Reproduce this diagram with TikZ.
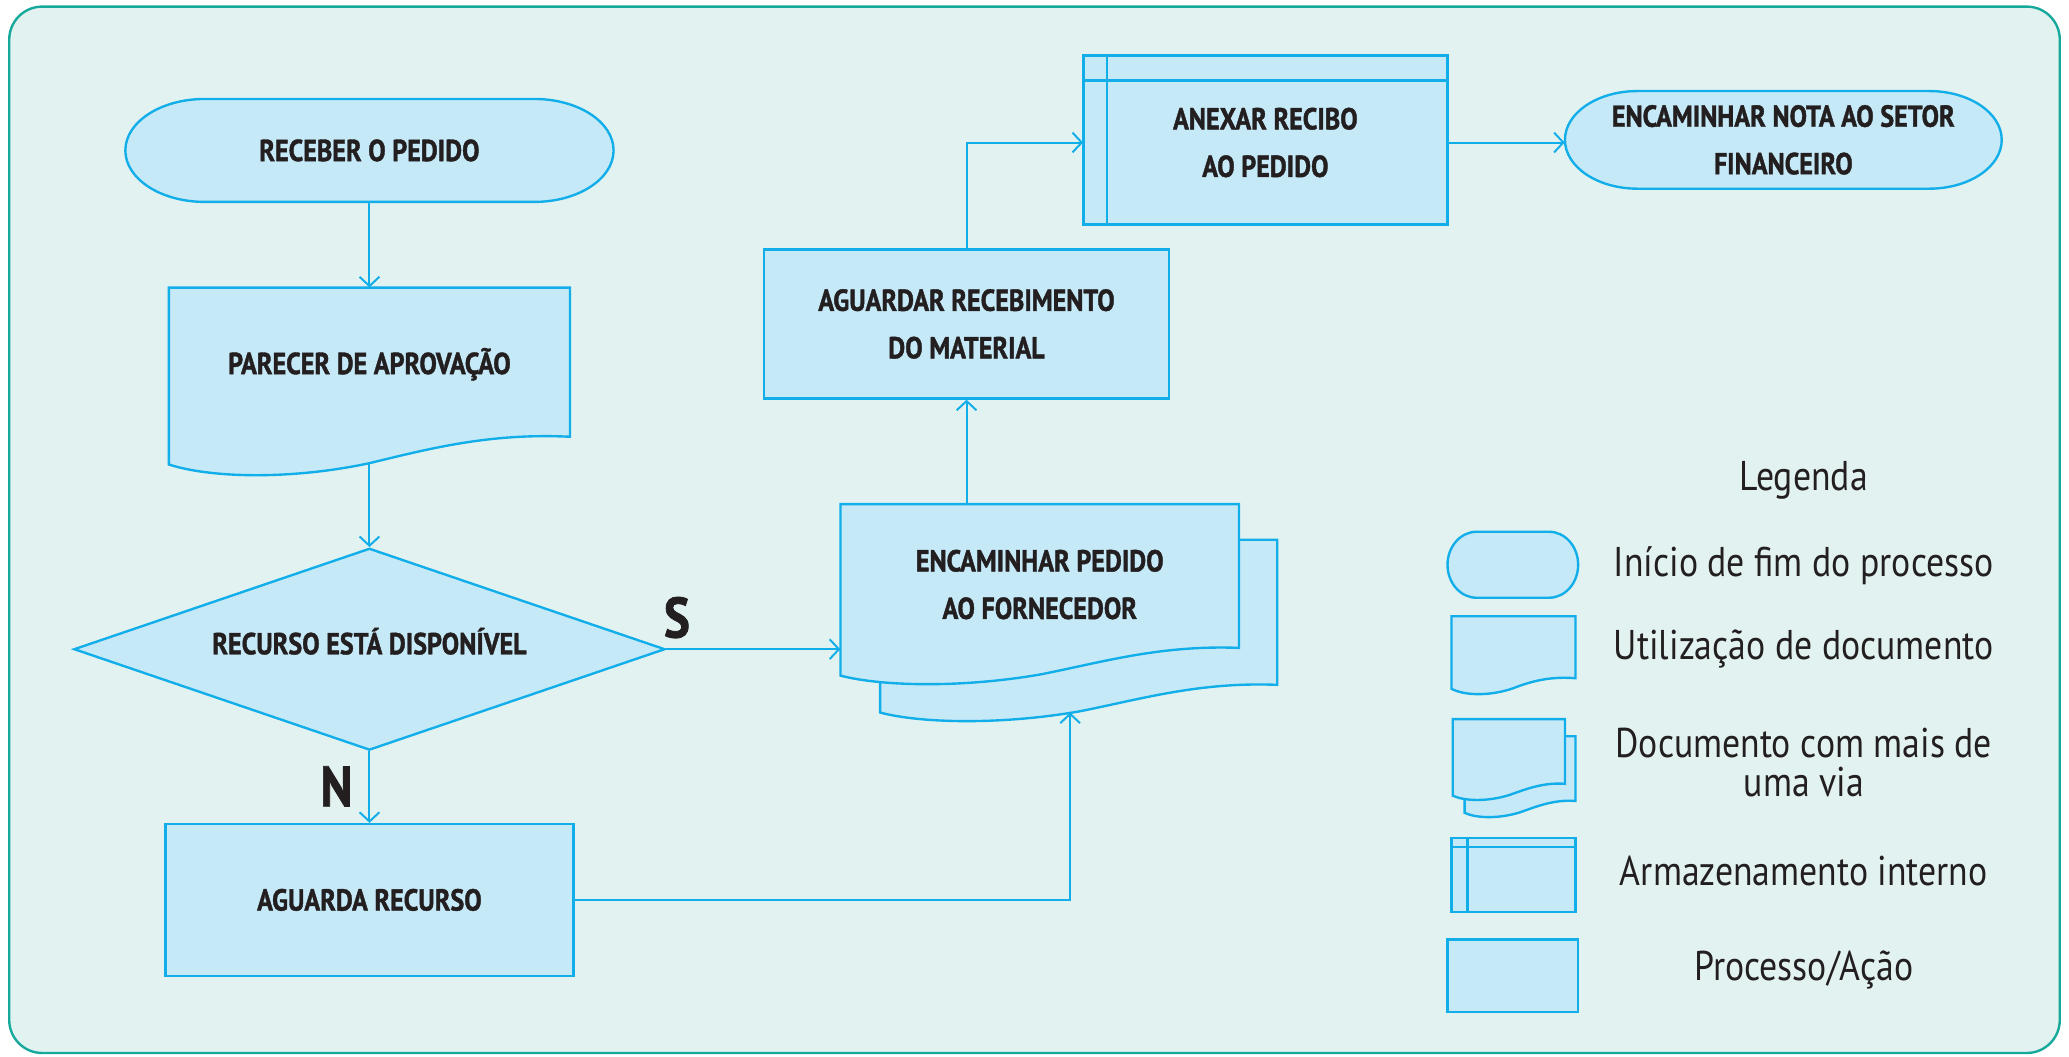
\documentclass[tikz,border=0pt]{standalone}
\usepackage{fontspec}
\setmainfont{PT Sans}[FakeStretch=0.86, BoldFeatures={FakeBold=1.3}]
\usetikzlibrary{arrows.meta,shapes.geometric,calc}

\definecolor{bgmint}{HTML}{E2F2F0}
\definecolor{framecol}{HTML}{16A99B}
\definecolor{boxfill}{HTML}{C6E9F7}
\definecolor{boxline}{HTML}{12AEEA}
\definecolor{ink}{HTML}{231F20}

\tikzset{
  shapeline/.style={draw=boxline, fill=boxfill, line width=1.8pt},
  labelfont/.style={font=\bfseries\fontsize{23}{36}\selectfont, text=ink, align=center},
  procbox/.style={shapeline, rectangle, inner sep=0pt, labelfont},
  holder/.style={rectangle, inner sep=0pt, labelfont},
  flow/.style={draw=boxline, line width=1.5pt, -{Straight Barb[length=7pt,width=15pt,line width=1.5pt]}},
  branch/.style={font=\bfseries\fontsize{43}{43}\selectfont, text=ink},
  legtext/.style={font=\fontsize{31.5}{30}\selectfont, text=ink, align=center},
}

% stadium outline: centre x, centre y, half width, half height, end radius
\newcommand\stadiumshape[5]{%
  \draw[shapeline] ({#1-#3+#5},{#2-#4}) -- ({#1+#3-#5},{#2-#4})
    arc[start angle=-90,end angle=90,x radius=#5,y radius=#4]
    -- ({#1-#3+#5},{#2+#4})
    arc[start angle=90,end angle=270,x radius=#5,y radius=#4] -- cycle;}

% document outline: left x, right x, top y, left bottom y, right bottom y, wave depth
\newcommand\docshape[6]{%
  \draw[shapeline] (#1,#3) -- (#1,#4)
    .. controls ({#1+0.1*(#2-#1)},{#4+#6}) and ({#1+0.3*(#2-#1)},{#4+1.2*#6}) .. ({#1+0.5*(#2-#1)},{#4-0.1*#6})
    .. controls ({#1+0.65*(#2-#1)},{#4-1.2*#6}) and ({#1+0.8*(#2-#1)},{#5-0.3*#6}) .. (#2,#5)
    -- (#2,#3) -- cycle;}

% internal storage outline: left x, right x, top y, bottom y, inner x, inner y
\newcommand\storeshape[6]{%
  \draw[shapeline] (#1,#3) rectangle (#2,#4);
  \draw[draw=boxline, line width=1.8pt] (#5,#3) -- (#5,#4) (#1,#6) -- (#2,#6);}

\begin{document}
\begin{tikzpicture}[x=1pt,y=-1pt]
\useasboundingbox (0,0) rectangle (1568,801);
\fill[white] (0,0) rectangle (1568,801);
\draw[fill=bgmint, draw=framecol, line width=1.8pt, rounded corners=25pt] (7,5) rectangle (1561,798);

% ---- outlines of the flowchart symbols
\stadiumshape{280}{114}{185}{39}{60}
\docshape{128}{432}{218}{352}{331}{10}
\docshape{667}{968}{409}{540}{519}{8}
\docshape{637}{939}{382}{512}{491}{8}
\storeshape{821}{1097}{42}{170}{839}{61}
\stadiumshape{1351.5}{106}{165.5}{37}{55}

% ---- flowchart nodes
\node[holder, minimum width=370pt, minimum height=78pt] (recv) at (280,114) {RECEBER O PEDIDO};
\node[holder, minimum width=304pt, minimum height=116pt] (parecer) at (280,276) {PARECER DE APROVAÇÃO};
\coordinate (parecerwave) at (280,351);
\node[shapeline, diamond, aspect=2.93, inner sep=0pt, minimum width=448pt, minimum height=153pt] (dec) at (280,492) {};
\node[holder] (dectext) at (280,486) {RECURSO ESTÁ DISPONÍVEL};
\node[procbox, minimum width=309pt, minimum height=115pt] (wait) at (280,682) {AGUARDA RECURSO};
\node[holder, minimum width=302pt, minimum height=122pt] (fwd) at (788,443) {ENCAMINHAR PEDIDO\\AO FORNECEDOR};
\coordinate (fwdback) at (811,540);
\node[procbox, minimum width=307pt, minimum height=113pt] (rcv) at (732.5,245.5) {AGUARDAR RECEBIMENTO\\DO MATERIAL};
\node[holder, minimum width=276pt, minimum height=128pt] (anx) at (959,108) {ANEXAR RECIBO\\AO PEDIDO};
\node[holder, minimum width=331pt, minimum height=74pt] (nota) at (1351.5,106) {ENCAMINHAR NOTA AO SETOR\\FINANCEIRO};

\node[branch] (yes) at (513,468) {S};
\node[branch] (no) at (255,596) {N};

% ---- connectors
\draw[flow] (recv.south) -- (parecer.north);
\draw[flow] (parecerwave) -- (dec.north);
\draw[flow] (dec.south) -- (wait.north);
\draw[flow] (dec.east) -- (dec.east -| fwd.west);
\draw[flow] (wait.east) -| (fwdback);
\draw[flow] (fwd.north -| rcv.south) -- (rcv.south);
\draw[flow] (rcv.north) |- (anx.west);
\draw[flow] (anx.east) -- (anx.east -| nota.west);

% ---- legend
\node[legtext] (legtitle) at (1367,364) {Legenda};
\stadiumshape{1146.5}{428}{49.5}{25}{22}
\node[legtext] (legstart) at (1367,429) {Início de fim do processo};
\docshape{1100}{1194}{467}{522}{514}{5}
\node[legtext] (legdoc) at (1367,492) {Utilização de documento};
\docshape{1110}{1194}{558}{616}{607}{4}
\docshape{1101}{1186}{545}{603}{594}{4}
\node[legtext] (legmulti) at (1367,578) {Documento com mais de\\uma via};
\storeshape{1100}{1194}{635}{691}{1112}{642}
\node[legtext] (legstore) at (1367,660) {Armazenamento interno};
\node[shapeline, rectangle, minimum width=99pt, minimum height=55pt] (legproc) at (1146.5,739.5) {};
\node[legtext] (legproctext) at (1367,735) {Processo/Ação};
\end{tikzpicture}
\end{document}
